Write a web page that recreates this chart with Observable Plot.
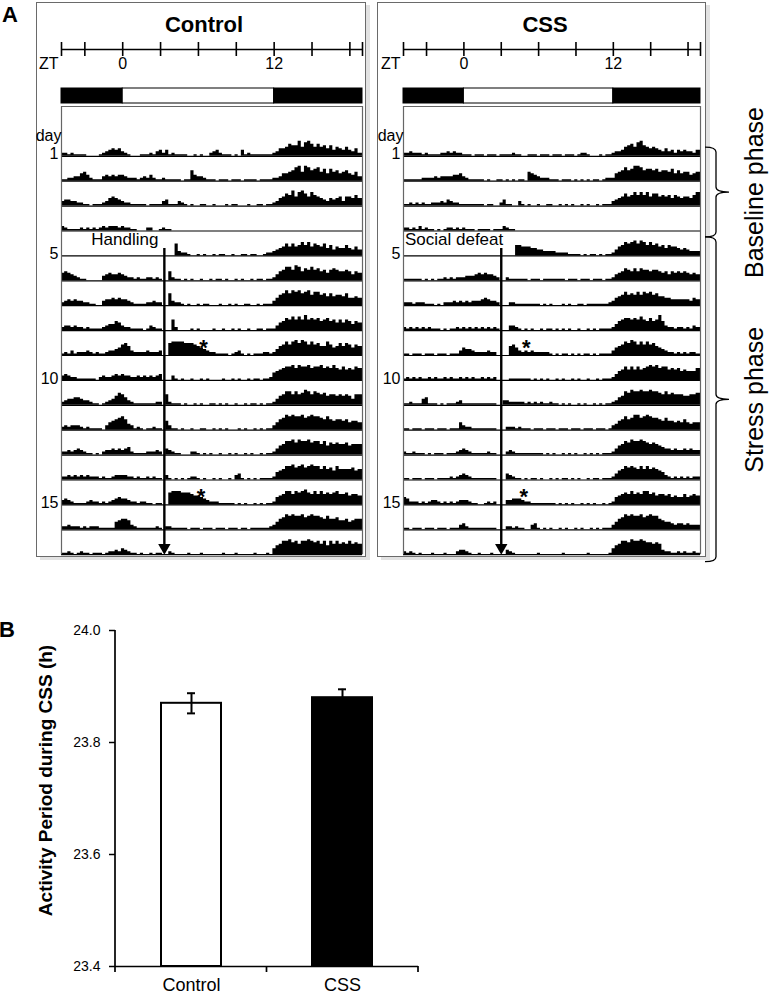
<!DOCTYPE html>
<html><head><meta charset="utf-8">
<script src="https://cdn.jsdelivr.net/npm/d3@7"></script>
<script src="https://cdn.jsdelivr.net/npm/@observablehq/plot@0.6"></script>
<style>
body{margin:0;background:#fff;font-family:"Liberation Sans",Arial,Helvetica,sans-serif;}
#root{position:relative;width:771px;height:995px;overflow:hidden;background:#fff;}
.frame{position:absolute;border:1.5px solid #6a6a6a;box-sizing:border-box;box-shadow:4px 3px 0 #e2e2e2;}
.lbl{position:absolute;font-weight:bold;line-height:1;color:#000;white-space:nowrap;}
svg{overflow:visible;}
</style></head><body><div id="root"></div><script>
// ---------------- DATA ----------------
const ZT_DOMAIN = [-4.85, 19];
const ztTicks = [-3, 0, 3, 6, 9, 12, 15, 18];
const ztLabels = [0, 12];
const ldPhases = [
  {from: -4.85, to: 0, light: false},
  {from: 0, to: 12, light: true},
  {from: 12, to: 19, light: false}
];
const binHours = 0.25;            // one character = one 15-min bin, starting at ZT -4.85
const dayLabels = [1, 5, 10, 15];
// activity per day (base-36 digit = activity level per bin)
const controlActivity = [
  "221211110 0001 234545321 000 11121 3424 121111 0010100 2342 111010 4 1211111112 355687 7a69a86 86757465 464352",
  "112233 564 2111 343434432 221 23242 11211111011 7 4332 111011101110111101111 22355 679a6a978 96858675 675463",
  "3443322 110111 23565432 21 111101111 34 111 3 2 1010011001000101100010011011 23568 7a69a8697 654354 56366575",
  "32 1111212121 232333232 211 000 22 00 1211",
  "000000 000000 000000 000000 000000 000000 8 322 100101001011001001101100 1223 4568 686797968 76857465 575464",
  "56543211 00000 345445432 2121122121 00 6 21 101010010010110100101001011011 24679 97a968797 86757876 676465",
  "2343433221 100 344545443 2111 122322 00 8 322 10100101100010010100110010111 3578a 8a9a89a79 97868677 685565",
  "2332322121 1112 344653 221111 01 32 11 00 0 7 2 000010100001001001010010011011 13568 79797a787 86786757 576465",
  "121312223212 11 23345786 3222232223 00 8 9999888 765 43 22111 101 23 10101 1122 124679 79a8a9797 86697568 687576",
  "3432 211111 10 2322 343433 2232323234 00 0 3 1 0100100101000010010100101101 1256789 9a8a99a89 9a898a87 978798",
  "2344554332 1101 23468753 2111111 122 0 7 211 101001010011010100100101101011 24679 97978a979 87867767 676477",
  "232333212 11110 356789 743 121011211 0 631 1010010011001010100010100101011 3578a 9a99a89a9 98797677 675665",
  "22323432 11010 233434345 21111 22232 0 4321 1000 22 10101001001010010100101 124679 9a8a99a89 97968787 786777",
  "223232323222 1211 233332 2121121211 0 3 1010101 22 101001010010 34 1010101111 25679 9a89a89a9 97978697 777867",
  "3432 1111 2322 1212 345443 221221 1011 00 8999888 7665432 221111 1010100101011 25679 97989a879 79787897 786776",
  "223222121222 11111 56776 3211111121 0 221 1111011101110111011101101111 112 3578a 9a99a89a9 98797786 675677",
  "11210121101110 12232432 1101001011 00 210 000100010000001000100000100010 46799 a89799a98 97969797 879787"
];
const cssActivity = [
  "22322212 1111 2232322 1110 111011101111 2 1100 11101110111011101 22 10001011 23346 7869a7656 54353424 343324",
  "11111 122223233334 45 321111 101001101010110 6 54 322211 101110101010110 122 25679 78aa97887 86776857 566456",
  "11212121122 232432 211111111 01100 24 1100 3 1010010011001010100101001011 134568 679797968 86767576 566579",
  "221213121 1010 1221212 11101111011 13211",
  "000000 000000 000000 000000 000000 000000 77666 55443333 222211110 101101011 24679 89a8a9797 86757665 454333",
  "11111 101010 1121212 223334545443 2 00 21 11111011101111111011101110111011 24568 768687767 76564656 565454",
  "22212221 11010 222323232 33345 4332 000 221 111111 10101000101001 1011111112 35679 787979897 86655444 444354",
  "21212121211 10101 121212121212121 000 3321 0101001011010101001001010111 124678 878797686 7a632212 212132",
  "110111011101110111 354 432222322 0000 675 3232322222 1010110101011010111 135679 8a9797978 6543 2212121221",
  "121212112121121211212121121212 0000 111111101 01010010100101001001011 124679 7979789a9 a8997878 676668",
  "112111 45 111010111 23 11111111111 00 33222 221212121121 101010010100101011 23569 8a99a99a9 98797877 766778",
  "110111011101110111 5 322 11111111 000 22212 11101110111011101110111011101 34679 78aa89a98 87686656 575455",
  "211211 10101110111 2343 211111211 000 232 111111111 010100101010010101011 124679 8a99a9878 76544343 343433",
  "1101110111011 11212 343 211111111 000 4321 10101101001010110101001011011 124679 898797978 7653 2121212122",
  "54 2221212 33 212121 23332 1100 1212 000 334443 22 11111111 010101001010100101 25678 797879978 67767565 575676",
  "110111011101110111 34 2111111111 000 22121 100 34 10101001010010100101011 13578a 9a99a89a9 97655434 434333",
  "2121 0100010001000 2332 100100010 000 32 10000000100000001000000010000001 46799 8a99a9887 8732 2112121121"
];
const events = [
  {panel: "Control", label: "Handling", zt: 3.3, day: 5},
  {panel: "CSS", label: "Social defeat", zt: 3.0, day: 5}
];
const stars = [
  {panel: "Control", day: 9, zt: 6.4}, {panel: "Control", day: 15, zt: 6.2},
  {panel: "CSS", day: 9, zt: 5.0}, {panel: "CSS", day: 15, zt: 4.8}
];
const phases = [
  {label: "Baseline phase", from: 0.65, to: 4.26},
  {label: "Stress phase", from: 4.26, to: 17.3}
];
const groups = ["Control", "CSS"];
const periodMean = [23.87, 23.88];
const periodSem = [0.018, 0.015];
const periodTicks = [23.4, 23.6, 23.8, 24.0];
const periodLabel = "Activity Period during CSS (h)";

// ---------------- LAYOUT ----------------
const FONT = '"Liberation Sans", Arial, Helvetica, sans-serif';
const root = document.getElementById("root");
const ROW_PX = 24.9, UNIT_PX = 1.5;
const NBINS = 95;
const lastDay = controlActivity.length;
const days = d3.range(1, lastDay + 1);

function put(el, left, top) {
  el.style.position = "absolute";
  el.style.left = left + "px";
  el.style.top = top + "px";
  root.appendChild(el);
  return el;
}
function label(text, left, top, size, extra) {
  const d = document.createElement("div");
  d.className = "lbl";
  d.textContent = text;
  d.style.fontSize = size + "px";
  if (extra) Object.assign(d.style, extra);
  return put(d, left, top);
}
function frame(left, top, w, h) {
  const d = document.createElement("div");
  d.className = "frame";
  d.style.width = w + "px"; d.style.height = h + "px";
  return put(d, left, top);
}
const baseStyle = {fontFamily: FONT, fontSize: "16px", color: "black", background: "transparent", overflow: "visible"};

function parseRow(s) {
  const c = s.replace(/\s+/g, "");
  return d3.range(NBINS).map(i => i < c.length ? parseInt(c[i], 36) : 0);
}

frame(36, 2, 330, 555);
frame(377, 2, 329, 555);
label("A", 2, 4, 22);
label("B", -1, 619, 22);
label("Control", 104, 14, 22, {width: "200px", textAlign: "center"});
label("CSS", 445, 14, 22, {width: "200px", textAlign: "center"});

const panels = [
  {name: "Control", rows: controlActivity, left: 61, right: 362, svgWidth: 380, eventDx: -6, braces: false},
  {name: "CSS", rows: cssActivity, left: 403, right: 700, svgWidth: 771, eventDx: 2, braces: true}
];

for (const p of panels) {
  const mR = p.svgWidth - p.right;
  // ZT axis
  const axisPlot = Plot.plot({
    width: p.svgWidth, height: 80, marginLeft: p.left, marginRight: mR, marginTop: 42, marginBottom: 24,
    x: {domain: ZT_DOMAIN, axis: null}, y: {domain: [0, 1], axis: null},
    style: baseStyle,
    marks: [
      Plot.ruleY([0.5], {stroke: "black", strokeWidth: 1.6}),
      Plot.tickX([ZT_DOMAIN[0], ...ztTicks, ZT_DOMAIN[1]], {x: d => d, stroke: "black", strokeWidth: 1.6}),
      Plot.text(ztLabels, {x: d => d, text: d => String(d), frameAnchor: "bottom", dy: 12, fontSize: 16, fill: "black"}),
      Plot.text(["ZT"], {x: () => ZT_DOMAIN[0], frameAnchor: "bottom", dy: 12, dx: -3, textAnchor: "end", fontSize: 16, fill: "black"})
    ]
  });
  put(axisPlot, 0, 0);
  // Light/dark bar
  const ldPlot = Plot.plot({
    width: p.svgWidth, height: 30, marginLeft: p.left, marginRight: mR, marginTop: 8, marginBottom: 7,
    x: {domain: ZT_DOMAIN, axis: null},
    style: baseStyle,
    marks: [
      Plot.rect(ldPhases, {x1: "from", x2: "to", fill: d => d.light ? "white" : "black", stroke: "black", strokeWidth: 1})
    ]
  });
  put(ldPlot, 0, 80);

  // Actogram
  const pts = [];
  p.rows.forEach((s, di) => {
    const day = di + 1;
    const vals = parseRow(s);
    vals.forEach((v, i) => pts.push({day, zt: ZT_DOMAIN[0] + i * binHours, base: day, top: day - v * UNIT_PX / ROW_PX}));
    const last = vals[vals.length - 1];
    pts.push({day, zt: ZT_DOMAIN[1], base: day, top: day - last * UNIT_PX / ROW_PX});
  });
  const ev = events.filter(e => e.panel === p.name);
  const st = stars.filter(e => e.panel === p.name);
  const marks = [
    Plot.area(pts, {x1: "zt", y1: "base", y2: "top", z: "day", curve: "step-after", fill: "black"}),
    Plot.ruleY(days, {y: d => d, stroke: "black", strokeWidth: 1.2}),
    Plot.ruleY([-1], {stroke: "#666", strokeWidth: 1.2}),
    Plot.ruleX(ZT_DOMAIN, {x: d => d, stroke: "#666", strokeWidth: 1.2}),
    Plot.text(dayLabels, {frameAnchor: "left", y: d => d, text: d => String(d), textAnchor: "end", dx: -3, dy: -2, fontSize: 16, fill: "black"}),
    Plot.text(["day"], {frameAnchor: "left", y: () => days[0], textAnchor: "end", dx: 0, dy: -20, fontSize: 16, fill: "black"}),
    Plot.text(ev, {x: "zt", y: "day", text: "label", textAnchor: "end", dx: p.eventDx, dy: -16, fontSize: 17, fill: "black"}),
    Plot.ruleX(ev, {x: "zt", y1: d => d.day - 0.3, y2: () => lastDay - 0.32, stroke: "black", strokeWidth: 2.4}),
    Plot.dot(ev, {x: "zt", y: () => lastDay, dy: -7, symbol: "triangle", r: 4.6, rotate: 180, fill: "black", stroke: "none"}),
    Plot.text(st, {x: "zt", y: "day", text: () => "*", fontSize: 22, fontWeight: "bold", dy: -8, fill: "black"})
  ];
  if (p.braces) {
    marks.push((index, scales) => {
      const g = d3.create("svg:g").attr("fill", "none").attr("stroke", "black").attr("stroke-width", 1.3);
      const xr = scales.x(ZT_DOMAIN[1]);
      for (const ph of phases) {
        const y0 = scales.y(ph.from), y1 = scales.y(ph.to), ym = (y0 + y1) / 2;
        const h = xr + 5, s = xr + 16, t = xr + 29, r = 5;
        g.append("path").attr("d",
          `M${h},${y0} Q${s},${y0} ${s},${y0 + r} L${s},${ym - r} Q${s},${ym} ${t},${ym} ` +
          `Q${s},${ym} ${s},${ym + r} L${s},${y1 - r} Q${s},${y1} ${h},${y1}`);
      }
      return g.node();
    });
    marks.push(Plot.text(phases, {x: () => ZT_DOMAIN[1], y: d => (d.from + d.to) / 2, text: "label", rotate: -90, dx: 54, fontSize: 25, textAnchor: "middle", fill: "black"}));
  }
  const acto = Plot.plot({
    width: p.svgWidth, height: 500, marginLeft: p.left, marginRight: mR, marginTop: 6, marginBottom: 45.8,
    x: {domain: ZT_DOMAIN, axis: null},
    y: {domain: [-1, lastDay], reverse: true, axis: null},
    style: baseStyle,
    marks
  });
  put(acto, 0, 100);
}

// ---------------- Panel B ----------------
const barData = groups.map((g, i) => ({group: g, mean: periodMean[i], sem: periodSem[i]}));
const capData = barData.flatMap(d => [{group: d.group, y: d.mean - d.sem}, {group: d.group, y: d.mean + d.sem}]);
const barPlot = Plot.plot({
  width: 430, height: 392, marginLeft: 115, marginRight: 12, marginTop: 30, marginBottom: 26,
  x: {domain: groups, paddingInner: 0.6, paddingOuter: 0.3},
  y: {domain: [periodTicks[0], periodTicks[periodTicks.length - 1]]},
  color: {domain: groups, range: ["white", "black"]},
  style: {...baseStyle, fontSize: "14px"},
  marks: [
    Plot.barY(barData, {x: "group", y1: () => periodTicks[0], y2: "mean", fill: "group", stroke: "black", strokeWidth: 2}),
    Plot.ruleX(barData, {x: "group", y1: d => d.mean - d.sem, y2: d => d.mean + d.sem, stroke: "black", strokeWidth: 2}),
    Plot.tickY(capData, {x: "group", y: "y", stroke: "black", strokeWidth: 2, insetLeft: 26, insetRight: 26}),
    Plot.ruleY([periodTicks[0]], {stroke: "black", strokeWidth: 1.7}),
    Plot.axisY({ticks: periodTicks, tickFormat: d3.format(".1f"), tickSize: 6, tickPadding: 9, fontSize: 14, strokeWidth: 1.5, label: null}),
    Plot.axisX({tickSize: 0, tickPadding: 12, fontSize: 18, label: null}),
    (index, {x, y}) => {
      const g = d3.create("svg:g").attr("stroke", "black").attr("stroke-width", 1.7);
      const [r0, r1] = x.range();
      const [y0, y1] = [y(periodTicks[0]), y(periodTicks[periodTicks.length - 1])];
      g.append("line").attr("x1", r0).attr("x2", r0).attr("y1", y0).attr("y2", y1);
      const centers = groups.map(gp => x(gp) + x.bandwidth() / 2);
      const xs = [r0, ...d3.pairs(centers).map(([a, b]) => (a + b) / 2), r1];
      for (const xx of xs) g.append("line").attr("x1", xx).attr("x2", xx).attr("y1", y0).attr("y2", y0 + 6);
      return g.node();
    },
    Plot.text([periodLabel], {frameAnchor: "left", rotate: -90, dx: -70, dy: -18, fontSize: 19, fontWeight: "bold", textAnchor: "middle", fill: "black"})
  ]
});
put(barPlot, 0, 600);
</script></body></html>
